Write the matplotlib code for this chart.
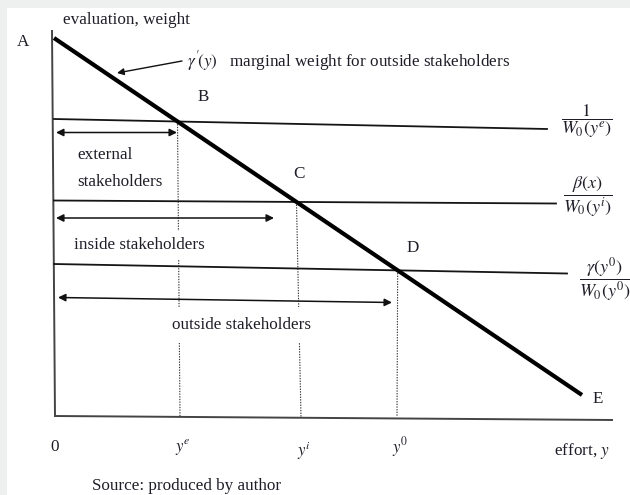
import matplotlib
matplotlib.use("Agg")
import matplotlib.pyplot as plt
from matplotlib.patches import Rectangle
import numpy as np

plt.rcParams['font.family'] = ['Liberation Serif', 'DejaVu Serif']
plt.rcParams['mathtext.fontset'] = 'stix'

# ---- diagram values (conceptual units: effort on x, evaluation/weight on y) ----
curve_x = [0, 528]            # gamma'(y) line, A -> E
curve_y = [379, 22]
level_left_y = [298, 216.5, 153]      # 1/W0(ye), beta(x)/W0(yi), gamma(y0)/W0(y0)
level_right_y = [288, 213.5, 143.5]
level_right_x = [493, 502, 513]
effort_bottom_x = [126, 247, 343]     # ye, yi, y0 on the effort axis
effort_labels = [r'$y^e$', r'$y^i$', r'$y^0$']
level_labels = [r'$\dfrac{1}{W_0(y^e)}$', r'$\dfrac{\beta(x)}{W_0(y^i)}$',
                r'$\dfrac{\gamma(y^0)}{W_0(y^0)}$']
point_labels = ['A', 'B', 'C', 'D', 'E']
arrow_left_x = [2, 2, 4]
arrow_left_y = [284.5, 199, 119.5]
arrow_right_x = [123, 220, 338]
arrow_right_y = [284.5, 199, 114.5]
group_labels = ['external\nstakeholders', 'inside stakeholders', 'outside stakeholders']

fig = plt.figure(figsize=(6.3, 4.95), dpi=100)
fig.patch.set_facecolor('#eef0f0')
fig.add_artist(Rectangle((7/630, 0), 1 - 7/630, 1 - 8/495, transform=fig.transFigure,
                         facecolor='white', edgecolor='none', zorder=0))
ax = fig.add_axes([0, 0, 1, 1])
ax.set_xlim(-54, 576)
ax.set_ylim(-78, 417)
ax.axis('off')

tc = '#1e1e28'
fs = 12.3

# axes
ax.plot([-2, 1], [387, 0], color='#444444', lw=1.4, zorder=2, solid_capstyle='butt')
ax.plot([1, 559], [1, -3], color='#444444', lw=1.4, zorder=2, solid_capstyle='butt')

# main curve
ax.plot(curve_x, curve_y, color='black', lw=3.0, zorder=5, solid_capstyle='butt')
slope = (curve_y[1] - curve_y[0]) / (curve_x[1] - curve_x[0])

# levels and intersections
for i in range(3):
    ax.plot([0, level_right_x[i]], [level_left_y[i], level_right_y[i]],
            color='#151515', lw=1.3, zorder=4)
    ls = (level_right_y[i] - level_left_y[i]) / level_right_x[i]
    xi = (curve_y[0] - level_left_y[i]) / (ls - slope)
    yi = level_left_y[i] + ls * xi
    ax.plot([xi, effort_bottom_x[i]], [yi, 0], color='#333333', lw=0.8,
            linestyle=(0, (1.2, 1.2)), zorder=1)
    ax.text(effort_bottom_x[i] + 3, -30 - (4 if i == 1 else 0), effort_labels[i],
            fontsize=12, color=tc, ha='center', va='center')

# level labels (fractions)
ax.text(533, 296, level_labels[0], fontsize=13, color=tc, ha='center', va='center')
ax.text(534, 220, level_labels[1], fontsize=13, color=tc, ha='center', va='center')
ax.text(551, 137, level_labels[2], fontsize=13, color=tc, ha='center', va='center')

# double arrows
for i in range(3):
    ax.annotate('', xy=(arrow_right_x[i], arrow_right_y[i]),
                xytext=(arrow_left_x[i], arrow_left_y[i]),
                arrowprops=dict(arrowstyle='<|-|>', color='#111111', lw=1.1,
                                mutation_scale=11, shrinkA=0, shrinkB=0), zorder=4)

# group labels
ax.text(23, 262, 'external', fontsize=fs, color=tc, ha='left', va='center', zorder=3)
ax.text(23, 235, 'stakeholders', fontsize=fs, color=tc, ha='left', va='center', zorder=3)
ax.text(20, 172, group_labels[1], fontsize=fs, color=tc, ha='left', va='center', zorder=3,
        bbox=dict(boxstyle='square,pad=0.35', facecolor='white', edgecolor='none'))
ax.text(118, 92, group_labels[2], fontsize=fs, color=tc, ha='left', va='center', zorder=3,
        bbox=dict(boxstyle='square,pad=0.6', facecolor='white', edgecolor='none'))

# point labels
pts = [(-31, 375), (149, 320), (245, 243), (359, 169), (544, 18)]
for lab, (px, py) in zip(point_labels, pts):
    ax.text(px, py, lab, fontsize=fs, color=tc, ha='center', va='center')

# axis titles
ax.text(9, 397, 'evaluation, weight', fontsize=fs, color=tc, ha='left', va='center')
ax.text(528, -34, r'effort, $y$', fontsize=fs, color=tc, ha='center', va='center')
ax.text(1, -30, '0', fontsize=fs, color=tc, ha='center', va='center')
ax.text(38, -69, 'Source: produced by author', fontsize=fs, color=tc, ha='left', va='center')

# curve annotation
ax.text(133, 356, r"$\gamma'\!(y)$   marginal weight for outside stakeholders",
        fontsize=fs, color=tc, ha='left', va='center')
ax.annotate('', xy=(63, 344), xytext=(128, 356),
            arrowprops=dict(arrowstyle='-|>', color='#111111', lw=1.0,
                            mutation_scale=10, shrinkA=0, shrinkB=0))

fig.savefig('out.png', dpi=100, facecolor=fig.get_facecolor())
